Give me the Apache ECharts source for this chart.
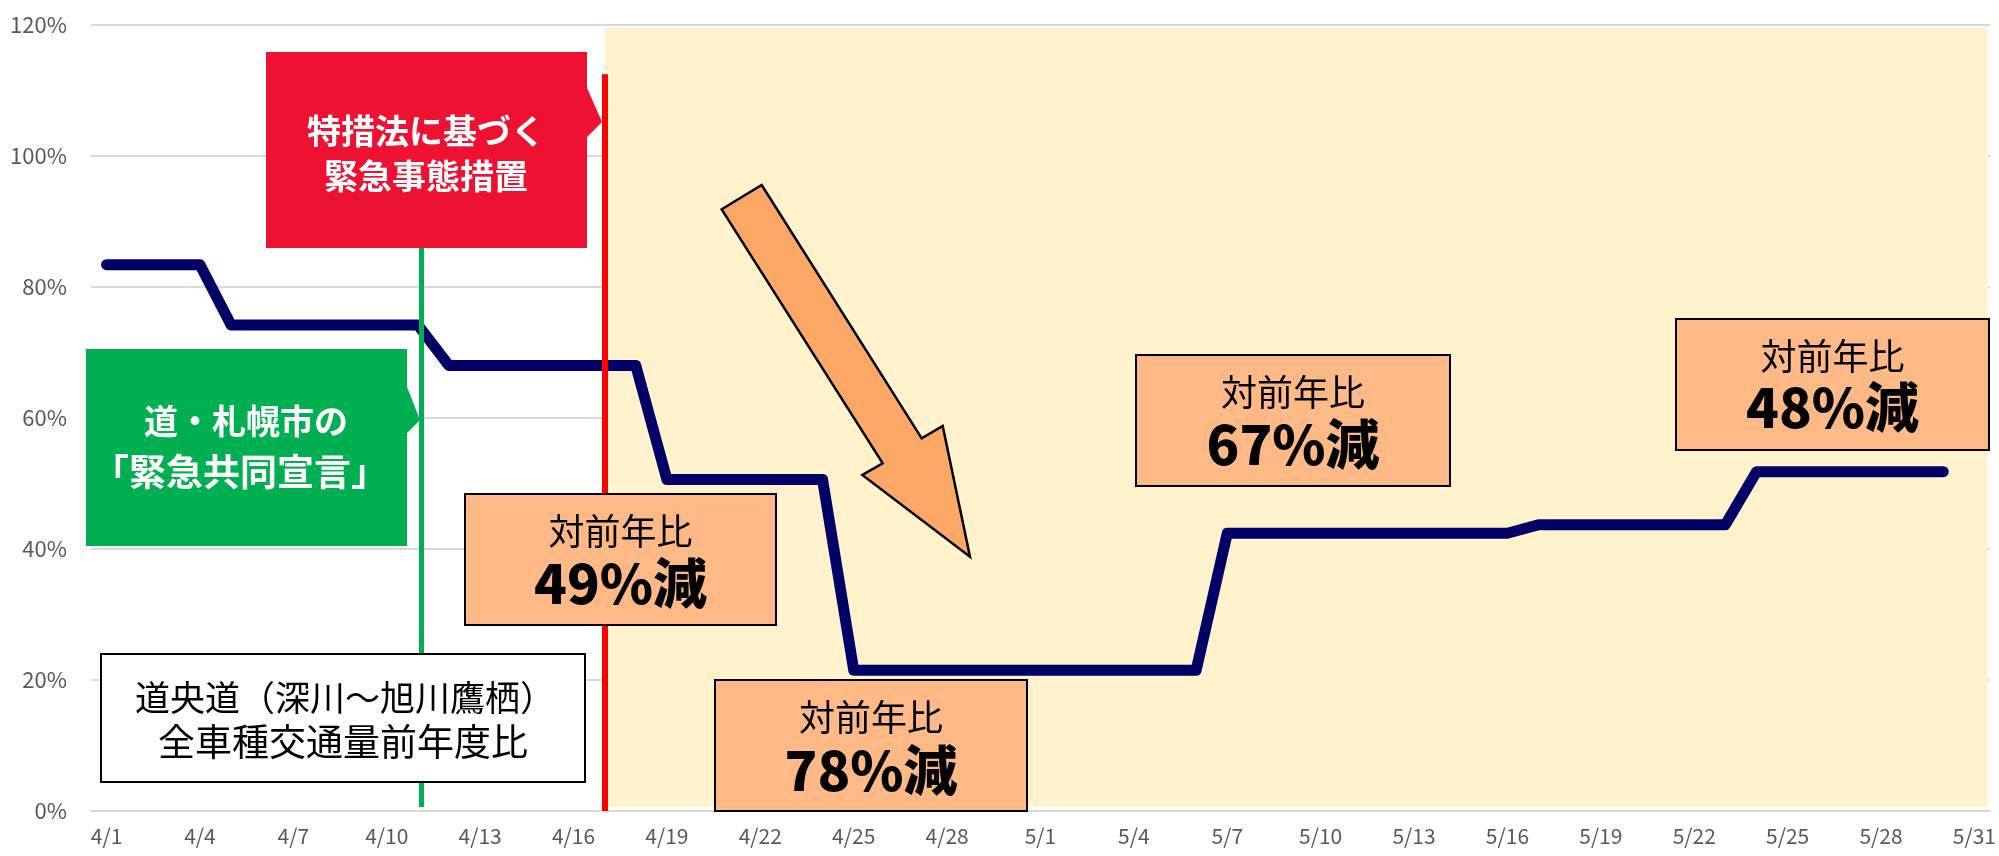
<!DOCTYPE html>
<html><head><meta charset="utf-8">
<script src="https://cdn.jsdelivr.net/npm/echarts@6/dist/echarts.min.js"></script>
<style>html,body{margin:0;padding:0;background:#fff}#c{width:1999px;height:856px}</style>
</head><body><div id="c"></div>
<script>
const categories = ['4/1','4/2','4/3','4/4','4/5','4/6','4/7','4/8','4/9','4/10','4/11','4/12','4/13','4/14','4/15','4/16','4/17','4/18','4/19','4/20','4/21','4/22','4/23','4/24','4/25','4/26','4/27','4/28','4/29','4/30','5/1','5/2','5/3','5/4','5/5','5/6','5/7','5/8','5/9','5/10','5/11','5/12','5/13','5/14','5/15','5/16','5/17','5/18','5/19','5/20','5/21','5/22','5/23','5/24','5/25','5/26','5/27','5/28','5/29','5/30','5/31'];
const traffic = [83.4,83.4,83.4,83.4,74.2,74.2,74.2,74.2,74.2,74.2,74.2,68.0,68.0,68.0,68.0,68.0,68.0,68.0,50.6,50.6,50.6,50.6,50.6,50.6,21.5,21.5,21.5,21.5,21.5,21.5,21.5,21.5,21.5,21.5,21.5,21.5,42.4,42.4,42.4,42.4,42.4,42.4,42.4,42.4,42.4,42.4,43.7,43.7,43.7,43.7,43.7,43.7,43.7,51.8,51.8,51.8,51.8,51.8,51.8,51.8,null];
const yTicks = {min:0, max:120, interval:20};
const jointDeclarationDay = 10.12;   // 道・札幌市の緊急共同宣言 (day offset)
const emergencyDay = 16;             // 特措法に基づく緊急事態措置 (4/17)
const labels = {
  redBox: ['特措法に基づく','緊急事態措置'],
  greenBox: ['道・札幌市の','「緊急共同宣言」'],
  titleBox: ['道央道（深川～旭川鷹栖）','全車種交通量前年度比'],
  sub: '対前年比',
  cuts: ['49%減','78%減','67%減','48%減']
};

const FONT = '"Noto Sans CJK JP","Noto Sans",sans-serif';
const chart = echarts.init(document.getElementById('c'), null, {renderer:'canvas'});

function txt(x, y, s, size, color, weight){
  return {type:'text', z:101, style:{x:x, y:y, text:s, fill:color, font: (weight||'normal')+' '+size+'px '+FONT, textAlign:'center', textVerticalAlign:'middle'}};
}
function orangeBox(x, y, w, h, cut, ty1, ty2){
  return [
    {type:'rect', z:100, shape:{x:x, y:y, width:w, height:h}, style:{fill:'#FFB987', stroke:'#000', lineWidth:2}},
    txt(x + w/2, ty1, labels.sub, 36, '#000', 'normal'),
    txt(x + w/2, ty2, cut, 54, '#000', '900')
  ];
}

const graphics = [].concat(
  [{type:'polygon', z:100, shape:{points:[[266,52],[587,52],[587,88],[602,122],[587,137],[587,248],[266,248]]}, style:{fill:'#EF1132'}},
   txt(426,131,labels.redBox[0],34,'#fff','bold'),
   txt(426,176,labels.redBox[1],34,'#fff','bold'),
   {type:'polygon', z:100, shape:{points:[[86,349],[407,349],[407,387],[420,420],[407,433],[407,546],[86,546]]}, style:{fill:'#00B050'}},
   txt(246,421,labels.greenBox[0],34,'#fff','bold'),
   txt(240,472,labels.greenBox[1],37,'#fff','bold'),
   {type:'rect', z:100, shape:{x:101,y:654,width:484,height:128}, style:{fill:'#fff', stroke:'#000', lineWidth:2}},
   txt(345,698,labels.titleBox[0],35,'#000','normal'),
   txt(343,742,labels.titleBox[1],37,'#000','normal'),
   {type:'polygon', z:100, shape:{points:[[721.7,209.3],[761.7,185],[921.7,438.3],[942.7,426],[970,556.7],[862.3,475],[882.7,463.3]]}, style:{fill:'#FCA766', stroke:'#000', lineWidth:2.5, lineJoin:'miter'}}
  ],
  orangeBox(465,494,311,131,labels.cuts[0],531,583),
  orangeBox(715,680,312,131,labels.cuts[1],717,770),
  orangeBox(1136,355,314,131,labels.cuts[2],392,444),
  orangeBox(1676,319,313,131,labels.cuts[3],356,407)
);

chart.setOption({
  animation:false,
  backgroundColor:'#fff',
  textStyle:{fontFamily:FONT},
  grid:{left:91, right:9, top:25, bottom:45, containLabel:false},
  xAxis:[{
    type:'category', data:categories, boundaryGap:true,
    axisLine:{lineStyle:{color:'#D9D9D9', width:2}},
    axisTick:{interval:2, length:7, lineStyle:{color:'#D9D9D9', width:1.5}},
    axisLabel:{interval:2, color:'#595959', fontSize:21, margin:15, fontFamily:FONT},
    splitLine:{show:false}
  },{
    type:'value', min:-0.5, max:60.5, show:false
  }],
  yAxis:{
    type:'value', min:yTicks.min, max:yTicks.max, interval:yTicks.interval,
    axisLine:{show:false}, axisTick:{show:false},
    axisLabel:{formatter:'{value}%', color:'#595959', fontSize:22, margin:24, fontFamily:FONT},
    splitLine:{lineStyle:{color:'#D9D9D9', width:2}}
  },
  series:[
    {type:'line', xAxisIndex:1, data:[], z:-1, silent:true,
     markArea:{silent:true, itemStyle:{color:'#FFF2CC'},
       data:[[{coord:[emergencyDay, 0.6]},{coord:[60.43, 119.6]}]]}},
    {type:'line', xAxisIndex:0, data:traffic, symbol:'none', smooth:false, z:3,
     lineStyle:{color:'#000066', width:11, cap:'round', join:'round'}},
    {type:'line', xAxisIndex:1, data:[], z:4, silent:true,
     markLine:{silent:true, symbol:['none','none'], label:{show:false},
       data:[
         [{coord:[jointDeclarationDay, 0.6], lineStyle:{color:'#00B050', width:5, type:'solid'}},{coord:[jointDeclarationDay, 100]}],
         [{coord:[emergencyDay, 0], lineStyle:{color:'#FF0000', width:6, type:'solid'}},{coord:[emergencyDay, 112.5]}]
       ]}}
  ],
  graphic:graphics
});
</script></body></html>
